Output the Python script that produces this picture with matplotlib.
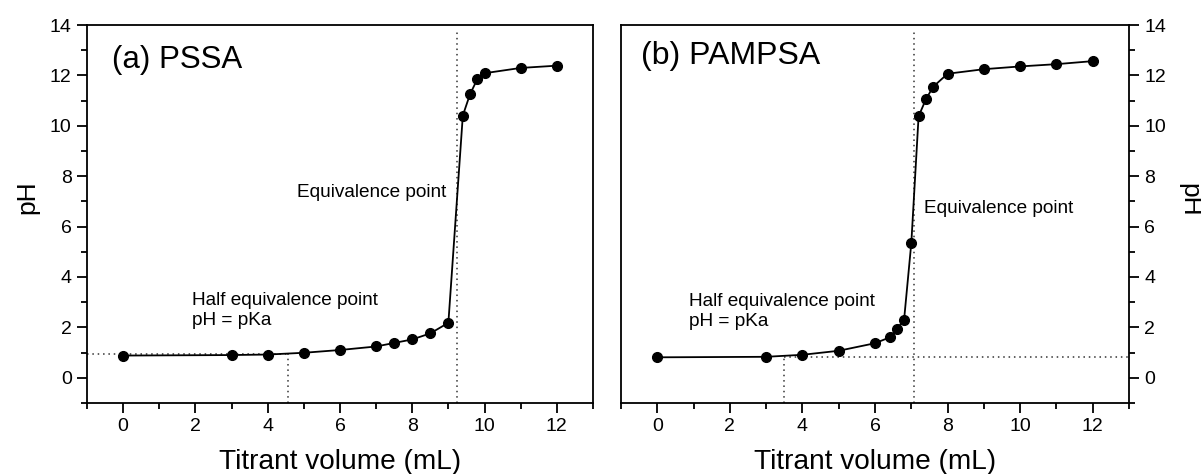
import matplotlib.pyplot as plt
from matplotlib.ticker import MultipleLocator

plt.rcParams['font.family'] = ['Liberation Sans', 'DejaVu Sans']

# (a) PSSA
vol_a = [0, 3, 4, 5, 6, 7, 7.5, 8, 8.5, 9, 9.4, 9.6, 9.8, 10, 11, 12]
ph_a = [0.88, 0.90, 0.92, 0.99, 1.10, 1.24, 1.38, 1.52, 1.76, 2.18,
        10.41, 11.26, 11.85, 12.09, 12.30, 12.39]
half_a = (4.55, 0.95)
equiv_a = 9.24

# (b) PAMPSA
vol_b = [0, 3, 4, 5, 6, 6.4, 6.6, 6.8, 7.0, 7.2, 7.4, 7.6, 8, 9, 10, 11, 12]
ph_b = [0.81, 0.83, 0.91, 1.07, 1.37, 1.60, 1.93, 2.30, 5.36,
        10.38, 11.05, 11.55, 12.07, 12.25, 12.36, 12.45, 12.57]
half_b = (3.5, 0.83)
equiv_b = 7.06

fig = plt.figure(figsize=(12.01, 4.74), dpi=100)
ax1 = fig.add_axes([0.0724, 0.150, 0.4213, 0.797])
ax2 = fig.add_axes([0.5171, 0.150, 0.4230, 0.797])

dot = dict(color='#333333', linestyle=(0, (1, 2.5)), linewidth=1.1, zorder=1)

for ax in (ax1, ax2):
    ax.set_xlim(-1, 13)
    ax.set_ylim(-1, 14)
    ax.xaxis.set_major_locator(MultipleLocator(2))
    ax.xaxis.set_minor_locator(MultipleLocator(1))
    ax.yaxis.set_major_locator(MultipleLocator(2))
    ax.yaxis.set_minor_locator(MultipleLocator(1))
    ax.tick_params(which='major', direction='out', length=7, width=1.3,
                   labelsize=14, pad=4)
    ax.tick_params(which='minor', direction='out', length=4, width=1.3)
    for s in ax.spines.values():
        s.set_linewidth(1.3)
    ax.set_xlabel('Titrant volume (mL)', fontsize=20.2, labelpad=10)

# left panel
ax1.tick_params(axis='y', which='both', left=True, right=False)
ax1.tick_params(axis='x', which='both', top=False)
ax1.plot(vol_a, ph_a, '-o', color='black', lw=1.3, ms=7, zorder=3)
ax1.plot([-1, half_a[0]], [half_a[1], half_a[1]], **dot)
ax1.plot([half_a[0], half_a[0]], [-1, half_a[1]], **dot)
ax1.plot([equiv_a, equiv_a], [-1, 13.75], **dot)
ax1.text(-0.3, 12.6, '(a) PSSA', fontsize=22.5, va='center')
ax1.text(4.81, 7.34, 'Equivalence point', fontsize=13.7, va='center')
ax1.text(1.92, 3.4, 'Half equivalence point\npH = pKa', fontsize=13.7,
         va='top', linespacing=1.25)
ax1.set_ylabel('pH', fontsize=19, va='center', ha='center')
ax1.yaxis.set_label_coords(-0.1186, 0.545)

# right panel
ax2.yaxis.tick_right()
ax2.tick_params(axis='y', which='both', left=False, right=True)
ax2.tick_params(axis='x', which='both', top=False)
ax2.plot(vol_b, ph_b, '-o', color='black', lw=1.3, ms=7, zorder=3)
ax2.plot([half_b[0], 13], [half_b[1], half_b[1]], **dot)
ax2.plot([half_b[0], half_b[0]], [-1, half_b[1]], **dot)
ax2.plot([equiv_b, equiv_b], [-1, 13.75], **dot)
ax2.text(-0.45, 12.78, '(b) PAMPSA', fontsize=23, va='center')
ax2.text(7.34, 6.73, 'Equivalence point', fontsize=13.7, va='center')
ax2.text(0.87, 3.38, 'Half equivalence point\npH = pKa', fontsize=13.7,
         va='top', linespacing=1.25)
ax2.yaxis.set_label_position('right')
ax2.set_ylabel('pH', fontsize=19, rotation=270, va='center', ha='center')
ax2.yaxis.set_label_coords(1.118, 0.537)

fig.savefig('out.png', dpi=100)
